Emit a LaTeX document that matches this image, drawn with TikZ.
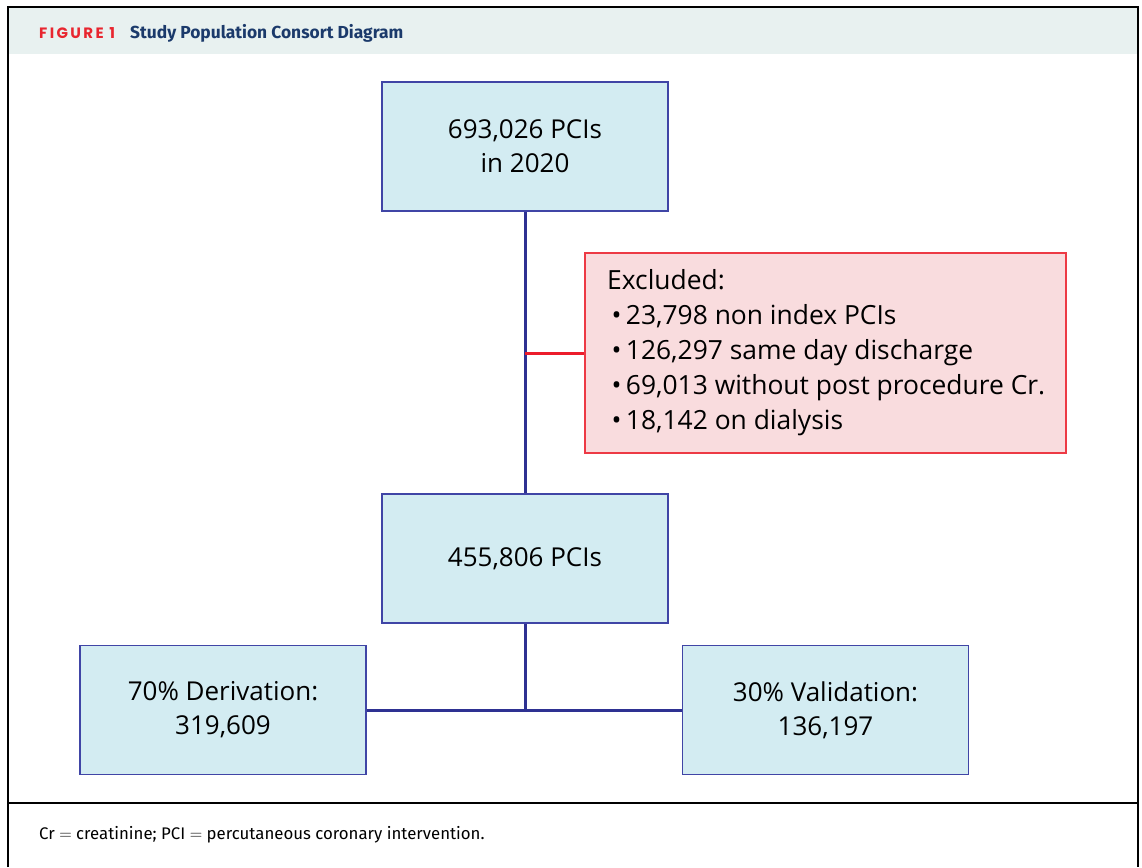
\documentclass[tikz,border=0pt]{standalone}
\usepackage{fontspec}
\setmainfont{Open Sans}
\newfontfamily\hdfont{Poppins}
\newfontfamily\fira{Fira Sans}
\definecolor{boxfill}{HTML}{D3ECF2}
\definecolor{boxdraw}{HTML}{4045A6}
\definecolor{linkblue}{HTML}{2E3192}
\definecolor{exfill}{HTML}{F9DCDE}
\definecolor{exdraw}{HTML}{ED3A45}
\definecolor{exline}{HTML}{EC1C2B}
\definecolor{hdfill}{HTML}{E8F1F0}
\definecolor{hdred}{HTML}{E8262F}
\definecolor{hdnavy}{HTML}{1B3A6B}
\tikzset{
  bluebox/.style={draw=boxdraw, line width=1.8pt, fill=boxfill, inner sep=0pt,
    minimum width=286pt, minimum height=129pt, align=center,
    font=\fontsize{26}{34}\selectfont},
  redbox/.style={draw=exdraw, line width=1.8pt, fill=exfill, inner sep=0pt},
  link/.style={draw=linkblue, line width=3pt},
  redlink/.style={draw=exline, line width=3pt},
  frame/.style={draw=black, line width=2pt}
}
\begin{document}
\begin{tikzpicture}[x=1pt,y=-1pt]
\useasboundingbox (0,0) rectangle (1142,867);
% frame and header
\fill[hdfill] (8,8) rectangle (1137,54);
\draw[frame] (8,867) -- (8,7) -- (1138,7) -- (1138,867);
\draw[frame] (8,803) -- (1138,803);
\node[anchor=west, inner sep=0pt, text=hdred, font=\hdfont\bfseries\fontsize{15}{17}\selectfont\addfontfeatures{LetterSpace=16}] (fig) at (39,33) {FIGURE 1};
\node[anchor=west, inner sep=0pt, text=hdnavy, font=\fira\bfseries\fontsize{17.4}{19}\selectfont] (title) at (130,33) {Study Population Consort Diagram};
\node[anchor=west, inner sep=0pt, font=\fira\fontsize{16.8}{19}\selectfont] (foot) at (39,835) {Cr $=$ creatinine; PCI $=$ percutaneous coronary intervention.};
% boxes
\node[bluebox] (top) at (525,146.5) {693,026 PCIs\\in 2020};
\node[redbox, minimum width=481pt, minimum height=200pt] (excl) at (825.5,353) {};
\node[anchor=west, inner sep=0pt, align=left, font=\fontsize{26.4}{35}\selectfont] (excltext) at (607,353)
  {Excluded:\\
   \,•\,23,798 non index PCIs\\
   \,•\,126,297 same day discharge\\
   \,•\,69,013 without post procedure Cr.\\
   \,•\,18,142 on dialysis};
\node[bluebox] (mid) at (525,558.5) {455,806 PCIs};
\node[bluebox] (left) at (223,710) {70\% Derivation:\\319,609};
\node[bluebox] (right) at (825.5,710) {30\% Validation:\\136,197};
% connectors
\draw[link] (top.south) -- (mid.north);
\draw[redlink] (top.south |- excl.west) -- (excl.west);
\coordinate (split) at (mid.south |- left.east);
\draw[link] (mid.south) -- (split);
\draw[link] (left.east) -- (right.west);
\end{tikzpicture}
\end{document}
